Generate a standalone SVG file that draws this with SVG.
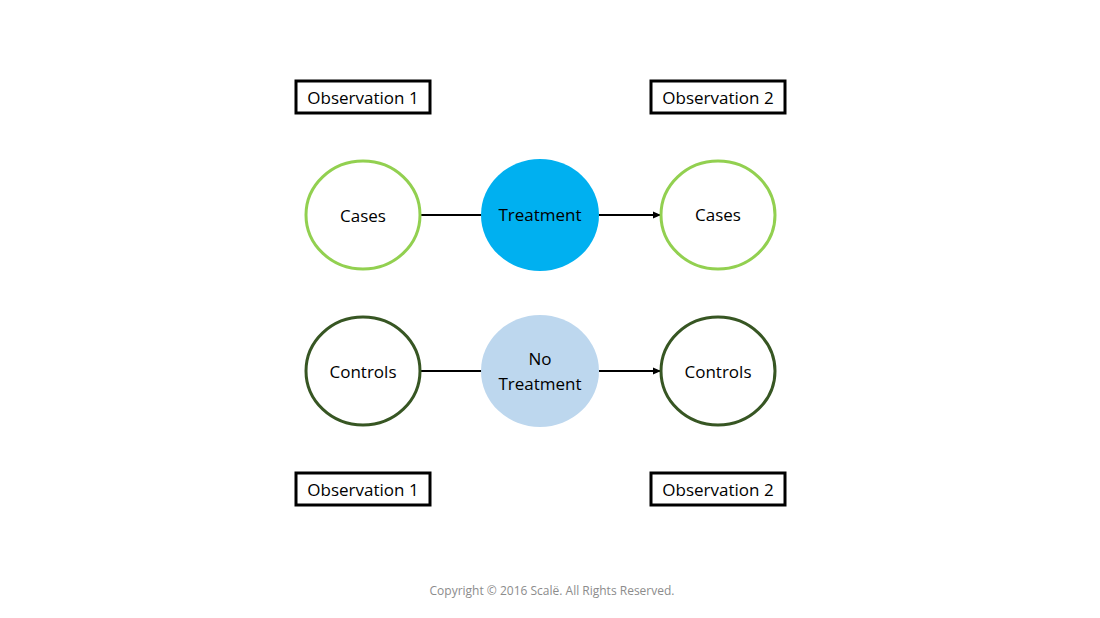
<svg xmlns="http://www.w3.org/2000/svg" width="1100" height="618" viewBox="0 0 1100 618">
<style>
text{font-family:"Open Sans","Liberation Sans",sans-serif;font-size:17px;fill:#000;text-anchor:middle;dominant-baseline:central}
.box{fill:#fff;stroke:#000;stroke-width:3}
.light{fill:#fff;stroke:#92D050;stroke-width:3}
.dark{fill:#fff;stroke:#375623;stroke-width:3}
.c{stroke:#000;stroke-width:2;fill:none}
</style>
<defs><marker id="a" markerWidth="8" markerHeight="8" refX="7" refY="4" orient="auto" markerUnits="userSpaceOnUse"><path d="M0,0.5 L8,4 L0,7.5z" fill="#000"/></marker></defs>
<rect width="1100" height="618" fill="#fff"/>
<g id="connectors">
<line class="c" x1="421" y1="215" x2="482" y2="215"/>
<line class="c" x1="599" y1="215" x2="660" y2="215" marker-end="url(#a)"/>
<line class="c" x1="421" y1="371" x2="482" y2="371"/>
<line class="c" x1="599" y1="371" x2="660" y2="371" marker-end="url(#a)"/>
</g>
<g id="obs1top"><rect class="box" x="296" y="81" width="134" height="32"/><text x="363" y="97">Observation 1</text></g>
<g id="obs2top"><rect class="box" x="651" y="81" width="134" height="32"/><text x="718" y="97">Observation 2</text></g>
<g id="obs1bot"><rect class="box" x="296" y="473" width="134" height="32"/><text x="363" y="489">Observation 1</text></g>
<g id="obs2bot"><rect class="box" x="651" y="473" width="134" height="32"/><text x="718" y="489">Observation 2</text></g>
<g id="cases1"><ellipse class="light" cx="363" cy="215" rx="57" ry="54"/><text x="363" y="215">Cases</text></g>
<g id="treatment"><ellipse fill="#00B0F0" cx="540" cy="215" rx="59" ry="56"/><text x="540" y="214">Treatment</text></g>
<g id="cases2"><ellipse class="light" cx="718" cy="215" rx="57" ry="54"/><text x="718" y="214">Cases</text></g>
<g id="controls1"><ellipse class="dark" cx="363" cy="371" rx="57" ry="54"/><text x="363" y="371">Controls</text></g>
<g id="notreatment"><ellipse fill="#BDD7EE" cx="540" cy="371" rx="59" ry="56"/><text x="540" y="358">No</text><text x="540" y="383">Treatment</text></g>
<g id="controls2"><ellipse class="dark" cx="718" cy="371" rx="57" ry="54"/><text x="718" y="371">Controls</text></g>
<text x="552" y="590" style="font-size:12px;fill:#8c8c8c">Copyright © 2016 Scalë. All Rights Reserved.</text>
</svg>
